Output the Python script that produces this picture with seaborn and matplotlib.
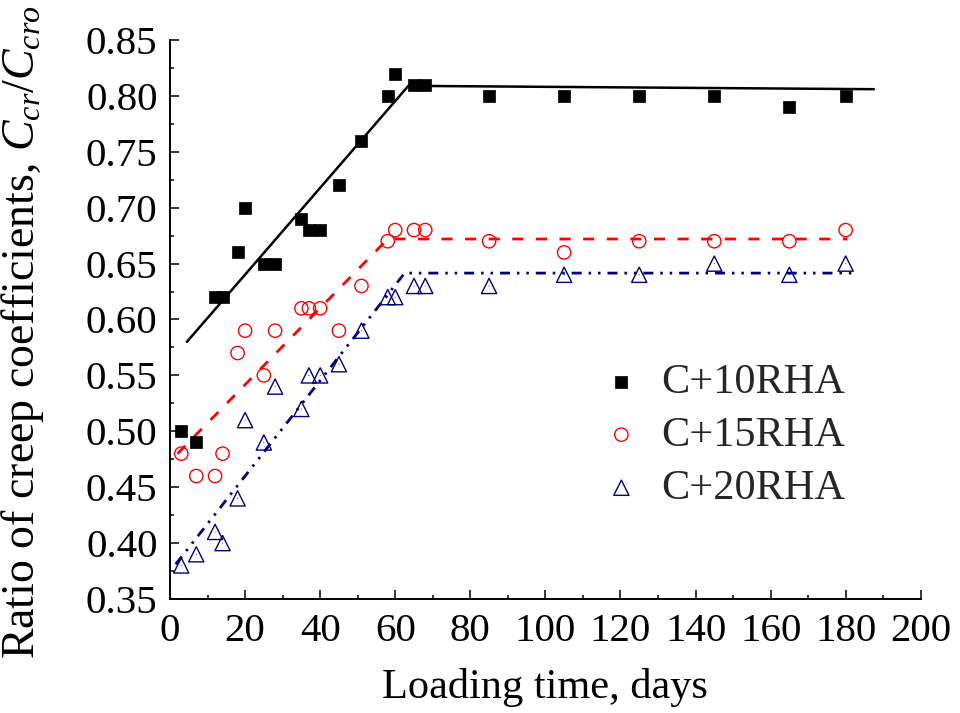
import matplotlib
matplotlib.use("Agg")
import matplotlib.pyplot as plt
import seaborn as sns
import pandas as pd
from matplotlib.ticker import MultipleLocator

# Loading times (days) shared by the three mixes
days = [3, 7, 12, 14, 18, 20, 25, 28, 35, 37, 40, 45, 51, 58, 60, 65, 68,
        85, 105, 125, 145, 165, 180]

# Ratio of creep coefficients Ccr/Ccro for each mix
ratio_c10 = [0.50, 0.49, 0.62, 0.62, 0.66, 0.70, 0.65, 0.65, 0.69, 0.68, 0.68,
             0.72, 0.76, 0.80, 0.82, 0.81, 0.81, 0.80, 0.80, 0.80, 0.80, 0.79, 0.80]
ratio_c15 = [0.48, 0.46, 0.46, 0.48, 0.57, 0.59, 0.55, 0.59, 0.61, 0.61, 0.61,
             0.59, 0.63, 0.67, 0.68, 0.68, 0.68, 0.67, 0.66, 0.67, 0.67, 0.67, 0.68]
ratio_c20 = [0.38, 0.39, 0.41, 0.40, 0.44, 0.51, 0.49, 0.54, 0.52, 0.55, 0.55,
             0.56, 0.59, 0.62, 0.62, 0.63, 0.63, 0.63, 0.64, 0.64, 0.65, 0.64, 0.65]

# Bilinear trend lines (start, knee, end)
trend_c10_x = [4.5, 63.5, 187.5]
trend_c10_y = [0.580, 0.809, 0.806]
trend_c15_x = [2.0, 58.0, 180.5]
trend_c15_y = [0.480, 0.672, 0.672]
trend_c20_x = [1.5, 62.5, 182.5]
trend_c20_y = [0.381, 0.6415, 0.6415]

series_labels = ["C+10RHA", "C+15RHA", "C+20RHA"]
x_ticks = list(range(0, 201, 20))
y_ticks = [0.35, 0.40, 0.45, 0.50, 0.55, 0.60, 0.65, 0.70, 0.75, 0.80, 0.85]

sns.set_theme(style="ticks")
plt.rcParams.update({
    "font.family": ["Liberation Serif", "DejaVu Serif"],
    "mathtext.fontset": "custom",
    "mathtext.rm": "Liberation Serif",
    "mathtext.it": "Liberation Serif:italic",
    "mathtext.bf": "Liberation Serif:bold",
    "axes.linewidth": 1.4,
})

BLACK = "#000000"
RED = "#FF0000"
NAVY = "#000080"

df = pd.DataFrame({"days": days, "c10": ratio_c10, "c15": ratio_c15, "c20": ratio_c20})

fig = plt.figure(figsize=(9.6, 7.13), dpi=100)
ax = fig.add_axes([0.1771, 0.1599, 0.782, 0.784])

# Trend lines
sns.lineplot(x=trend_c10_x, y=trend_c10_y, ax=ax, color=BLACK, lw=1.8,
             sort=False, estimator=None, legend=False)
sns.lineplot(x=trend_c15_x, y=trend_c15_y, ax=ax, color=RED, lw=2.0,
             linestyle=(0, (4, 4.5)), sort=False, estimator=None, legend=False)
sns.lineplot(x=trend_c20_x, y=trend_c20_y, ax=ax, color=NAVY, lw=2.0,
             linestyle=(0, (3.6, 2.5, 0.9, 2.5, 0.9, 2.5)),
             sort=False, estimator=None, legend=False)

# Measured points
sns.scatterplot(data=df, x="days", y="c10", ax=ax, marker="s", s=64,
                color=BLACK, edgecolor=BLACK, linewidth=0.5,
                label=series_labels[0], zorder=3)
sns.scatterplot(data=df, x="days", y="c15", ax=ax, marker="o", s=92,
                color=RED, facecolor="none", edgecolor=RED, linewidth=1.0,
                label=series_labels[1], zorder=3)
sns.scatterplot(data=df, x="days", y="c20", ax=ax, marker="^", s=120,
                color=NAVY, facecolor="none", edgecolor=NAVY, linewidth=1.0,
                label=series_labels[2], zorder=3)
sns.scatterplot(data=df, x="days", y="c20", ax=ax, marker=".", s=2,
                color=NAVY, edgecolor="none", legend=False, zorder=3)

ax.set_xlim(0, 200)
ax.set_ylim(0.35, 0.85)
ax.set_xticks(x_ticks)
ax.set_yticks(y_ticks)
ax.set_xticklabels([str(t) for t in x_ticks])
ax.set_yticklabels([f"{t:.2f}" for t in y_ticks])
ax.xaxis.set_minor_locator(MultipleLocator(10))
ax.yaxis.set_minor_locator(MultipleLocator(0.025))
ax.tick_params(which="both", direction="in", top=False, right=False,
               width=1.1, colors=BLACK)
ax.tick_params(which="major", length=6.7)
ax.tick_params(which="minor", length=3.2)
ax.tick_params(axis="x", which="major", pad=10, labelsize=29.5)
ax.tick_params(axis="y", which="major", pad=9, labelsize=29.5)

for side in ("top", "right"):
    ax.spines[side].set_visible(False)
for side in ("left", "bottom"):
    ax.spines[side].set_color(BLACK)

ax.set_xlabel("Loading time, days", fontsize=30.5, color=BLACK)
ax.set_ylabel("Ratio of creep coefficients, $C_{cr}/C_{cro}$", fontsize=33, color=BLACK)
ax.xaxis.set_label_coords(0.5, -0.123)
ax.yaxis.set_label_coords(-0.165, 0.478)

handles, labels = ax.get_legend_handles_labels()
ax.legend(handles, labels, frameon=False, fontsize=30.5, loc="upper left",
          bbox_to_anchor=(0.573, 0.422), handlelength=1.0, handletextpad=0.45,
          labelspacing=0.34, borderaxespad=0, borderpad=0)

fig.savefig("out.png", dpi=100)
